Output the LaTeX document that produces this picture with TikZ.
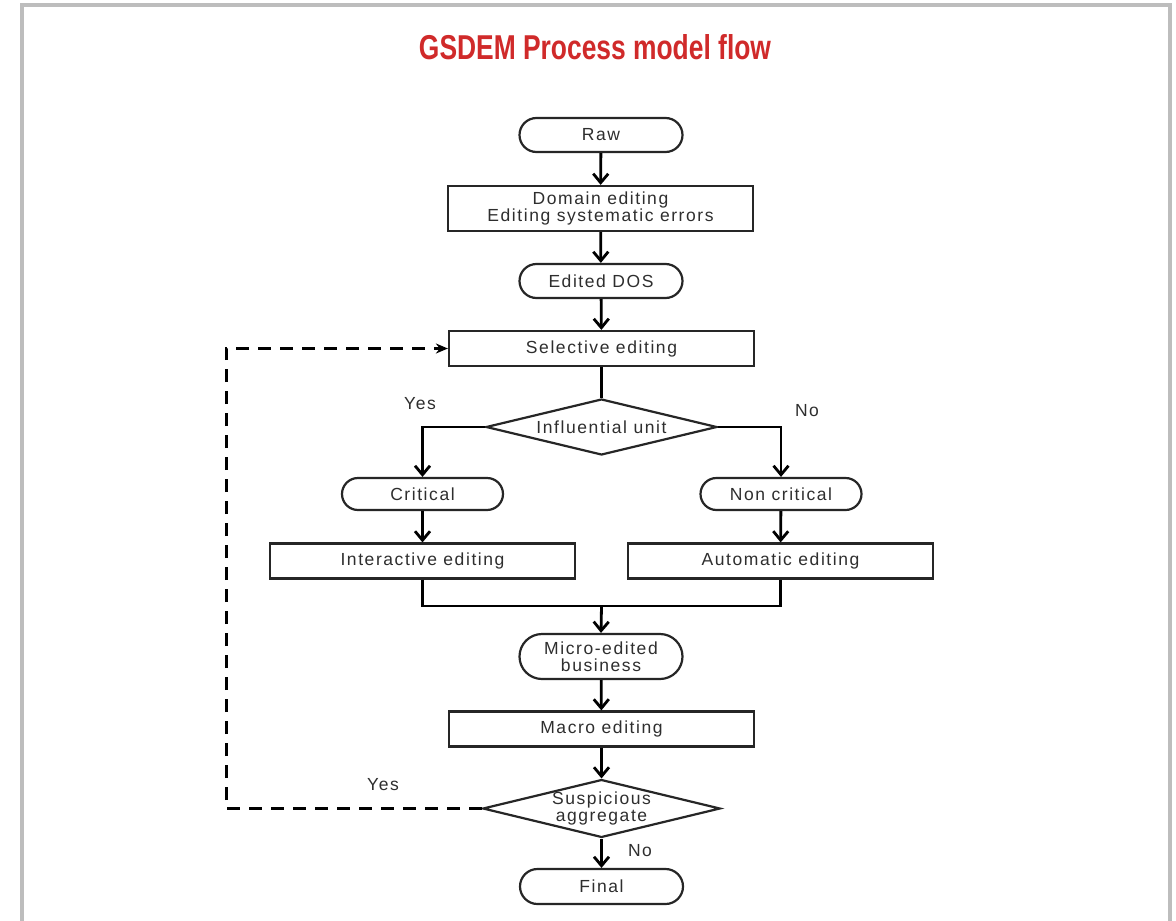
\documentclass[tikz,border=0pt]{standalone}
\usepackage{fontspec}
\setmainfont{Liberation Sans}
\newfontfamily\nodefont[LetterSpace=9]{Liberation Sans}
\usetikzlibrary{arrows.meta,shapes.geometric,shapes.misc}
\definecolor{txt}{HTML}{2E2E2E}
\definecolor{frame}{HTML}{BDBDBD}
\definecolor{ttl}{HTML}{D02A2A}
\tikzset{
  base/.style={draw=black!85, line width=2.2pt, text=txt, font=\nodefont\fontsize{17.5}{17.5}\selectfont, align=center, inner sep=0pt},
  procbox/.style={base, rectangle, minimum width=305pt, minimum height=35pt},
  term/.style={base, rounded rectangle, minimum width=163pt, minimum height=34pt},
  decision/.style={base, diamond, aspect=4.1, minimum width=231pt, minimum height=56pt},
  lbl/.style={text=txt, font=\nodefont\fontsize{17.5}{18}\selectfont, inner sep=0pt},
  flow/.style={line width=2.8pt, -{Straight Barb[length=9pt,width=15pt,line width=2.8pt]}},
  plain/.style={line width=2.8pt},
  loop/.style={line width=3pt, dash pattern=on 13pt off 9pt, -{Stealth[length=12pt,width=10pt]}}
}
\begin{document}
\begin{tikzpicture}[x=1pt,y=-1pt]
\useasboundingbox (0,0) rectangle (1176,921);
\fill[white] (0,0) rectangle (1176,921);
\draw[frame, line width=4pt] (22,925) -- (22,5) -- (1170,5) -- (1170,925);
\node (title) at (595,47) {\resizebox{352pt}{25pt}{\color{ttl}\bfseries GSDEM Process model flow}};

\node[term] (raw) at (601,135) {Raw};
\node[procbox] (domain) at (600.5,208.5) [minimum height=45pt] {Domain editing\\Editing systematic errors};
\node[term] (dos) at (601,281) {Edited DOS};
\node[procbox] (sel) at (601.5,348.5) {Selective editing};
\node[decision] (infl) at (601.5,427) {Influential unit};
\node[term] (crit) at (422.5,494) [minimum width=161pt, minimum height=32pt] {Critical};
\node[term] (ncrit) at (781,494) [minimum width=161pt, minimum height=32pt] {Non critical};
\node[procbox] (inter) at (422.5,561) {Interactive editing};
\node[procbox] (auto) at (780.5,561) {Automatic editing};
\node[term] (micro) at (601,656.5) [minimum height=45pt] {Micro-edited\\business};
\node[procbox] (macro) at (601.5,729) {Macro editing};
\node[decision] (susp) at (601.5,808.5) {Suspicious\\aggregate};
\node[term] (final) at (601.5,886.5) [minimum height=35pt] {Final};

\node[lbl] (yes1) at (420,404) {Yes};
\node[lbl] (no1) at (807,411) {No};
\node[lbl] (yes2) at (383,785) {Yes};
\node[lbl] (no2) at (640,851) {No};

\coordinate (join) at (601.5,606);
\coordinate (loopb) at (226,808.5);
\coordinate (loopt) at (226,348.5);

\draw[flow] (raw) -- (domain);
\draw[flow] (domain) -- (dos);
\draw[flow] (dos) -- (sel);
\draw[plain] (sel) -- (infl);
\draw[flow] (infl.west) -| (crit.north);
\draw[flow] (infl.east) -| (ncrit.north);
\draw[flow] (crit) -- (inter);
\draw[flow] (ncrit) -- (auto);
\draw[plain] (inter.south) |- (join) -| (auto.south);
\draw[flow] (join) -- (micro.north);
\draw[flow] (micro) -- (macro);
\draw[flow] (macro) -- (susp);
\draw[flow] (susp) -- (final);
\draw[loop] (susp.west) -- (loopb) -- (loopt) -- (sel.west);
\end{tikzpicture}
\end{document}
